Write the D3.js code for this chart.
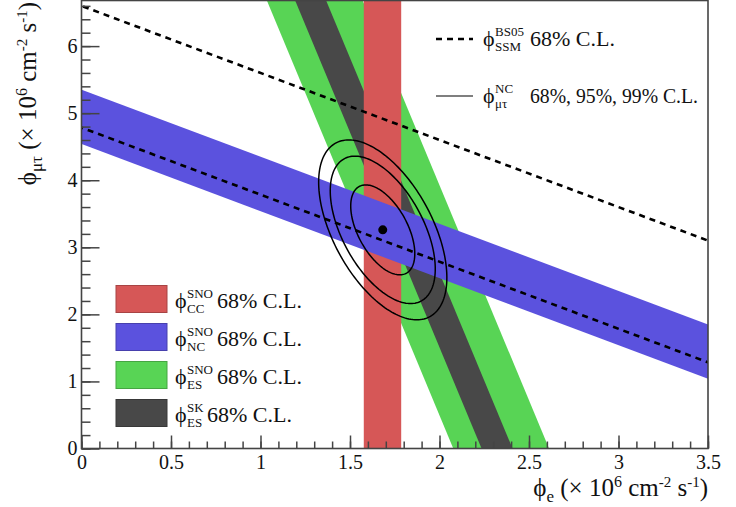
<!DOCTYPE html>
<html>
<head>
    <meta charset="utf-8">
    <title>SNO flux constraints</title>
    <script src="https://d3js.org/d3.v7.min.js"></script>
    <style>
        body, html {
            margin: 0;
            padding: 0;
            background: #fff;
        }
        svg {
            display: block;
        }
        svg text {
            font-family: "Liberation Serif", "Tinos", "Times New Roman", "DejaVu Serif", serif;
            fill: #111;
        }
        .axis path, .axis line {
            stroke: #444;
            stroke-width: 1.5px;
        }
        .axis text {
            font-size: 20px;
        }
    </style>
</head>
<body>
    <svg width="736" height="507"></svg>
    <script>
        // --- data ---
        // bands: phi_e + coef * phi_mutau in [lo, hi]
        const ccBand = [1.577, 1.786];       // coef 0
        const ncBand = [4.54, 5.35];         // coef 1
        const esSnoBand = [2.077, 2.612];    // coef 0.1559
        const esSkBand = [2.235, 2.408];     // coef 0.1559
        const esCoef = 0.1559;
        const ssmLines = [4.785, 6.60];      // phi_e + phi_mutau = value
        const bestFit = [1.683, 3.26];
        const fitSigma = [0.118, 0.442];
        const fitRho = -0.53;
        const clLevels = [2.30, 6.18, 9.21]; // delta chi2 for 68, 95, 99%

        const xMajor = [0, 0.5, 1, 1.5, 2, 2.5, 3, 3.5];
        const yMajor = [0, 1, 2, 3, 4, 5, 6];

        const colors = {
            cc: "#d65757",
            nc: "#5b52de",
            esSno: "#58d455",
            esSk: "#484848"
        };

        const PHI = "\u03d5";

        const svg = d3.select("svg");
        const mLeft = 81.5, mRight = 708, mTop = 0.5, mBottom = 448.5;

        const x = d3.scaleLinear().domain([0, 3.5]).range([mLeft, mRight]);
        const y = d3.scaleLinear().domain([0, 6.68]).range([mBottom, mTop]);
        const yMax = y.domain()[1];

        svg.append("defs").append("clipPath").attr("id", "plot")
            .append("rect")
            .attr("x", mLeft).attr("y", mTop)
            .attr("width", mRight - mLeft).attr("height", mBottom - mTop);

        const plot = svg.append("g").attr("clip-path", "url(#plot)");

        // polygon for lo <= phi_e + coef*phi_mt <= hi, over the y range
        function bandPoints(range, coef) {
            const [lo, hi] = range;
            return [
                [lo, 0], [lo - coef * yMax, yMax],
                [hi - coef * yMax, yMax], [hi, 0]
            ].map(p => [x(p[0]), y(p[1])]);
        }

        const bands = [
            { range: esSnoBand, coef: esCoef, color: colors.esSno },
            { range: esSkBand, coef: esCoef, color: colors.esSk },
            { range: ccBand, coef: 0, color: colors.cc },
            { range: ncBand, coef: 1, color: colors.nc }
        ];

        plot.selectAll("polygon.band")
            .data(bands)
            .enter().append("polygon")
            .attr("class", "band")
            .attr("points", d => bandPoints(d.range, d.coef).join(" "))
            .attr("fill", d => d.color);

        // SSM dashed lines
        plot.selectAll("line.ssm")
            .data(ssmLines)
            .enter().append("line")
            .attr("x1", d => x(d)).attr("y1", y(0))
            .attr("x2", d => x(d - yMax)).attr("y2", y(yMax))
            .attr("stroke", "#000")
            .attr("stroke-width", 2.6)
            .attr("stroke-dasharray", "6,5");

        // confidence contours
        const line = d3.line().curve(d3.curveLinearClosed);
        const angles = d3.range(0, 2 * Math.PI, Math.PI / 90);
        function ellipse(dchi2) {
            const k = Math.sqrt(dchi2);
            return angles.map(t => {
                const u = Math.cos(t), v = Math.sin(t);
                const pe = bestFit[0] + k * fitSigma[0] * u;
                const pm = bestFit[1] + k * fitSigma[1] * (fitRho * u + Math.sqrt(1 - fitRho * fitRho) * v);
                return [x(pe), y(pm)];
            });
        }
        plot.selectAll("path.cl")
            .data(clLevels)
            .enter().append("path")
            .attr("d", d => line(ellipse(d)))
            .attr("fill", "none")
            .attr("stroke", "#000")
            .attr("stroke-width", 1.5);

        plot.append("circle")
            .attr("cx", x(bestFit[0])).attr("cy", y(bestFit[1]))
            .attr("r", 4.5).attr("fill", "#000");

        // axes
        const xMinor = d3.range(0, 3.5001, 0.1).map(v => +v.toFixed(1));
        const yMinor = d3.range(0, 6.6001, 0.2).map(v => +v.toFixed(1));

        svg.append("g").attr("class", "axis")
            .attr("transform", `translate(0,${mBottom})`)
            .call(d3.axisBottom(x).tickValues(xMinor).tickSize(-7).tickSizeOuter(0).tickFormat(""))
            .call(g => g.select(".domain").remove());
        svg.append("g").attr("class", "axis")
            .attr("transform", `translate(0,${mBottom})`)
            .call(d3.axisBottom(x).tickValues(xMajor).tickSize(-13).tickSizeOuter(0).tickPadding(6)
                .tickFormat(d3.format("")))
            .call(g => g.select(".domain").remove());

        svg.append("g").attr("class", "axis")
            .attr("transform", `translate(${mLeft},0)`)
            .call(d3.axisLeft(y).tickValues(yMinor).tickSize(-9).tickSizeOuter(0).tickFormat(""))
            .call(g => g.select(".domain").remove());
        svg.append("g").attr("class", "axis")
            .attr("transform", `translate(${mLeft},0)`)
            .call(d3.axisLeft(y).tickValues(yMajor).tickSize(-18).tickSizeOuter(0).tickPadding(4)
                .tickFormat(d3.format("")))
            .call(g => g.select(".domain").remove());

        // frame
        svg.append("rect")
            .attr("x", mLeft).attr("y", mTop)
            .attr("width", mRight - mLeft).attr("height", mBottom - mTop)
            .attr("fill", "none")
            .attr("stroke", "#444")
            .attr("stroke-width", 1.6);

        // axis titles
        function addTitle(g, sub) {
            g.append("tspan").text(PHI);
            g.append("tspan").attr("font-size", 17).attr("dy", 6).text(sub);
            g.append("tspan").attr("dy", -6).text(" (\u00d7 10");
            g.append("tspan").attr("font-size", 16).attr("dy", -9).text("6");
            g.append("tspan").attr("dy", 9).text(" cm");
            g.append("tspan").attr("font-size", 15).attr("dy", -9).text("-2");
            g.append("tspan").attr("dy", 9).text(" s");
            g.append("tspan").attr("font-size", 15).attr("dy", -9).text("-1");
            g.append("tspan").attr("dy", 9).text(")");
        }

        const xTitle = svg.append("text")
            .attr("x", mRight).attr("y", 496)
            .attr("text-anchor", "end")
            .attr("font-size", 25);
        addTitle(xTitle, "e");

        const yTitle = svg.append("text")
            .attr("transform", "translate(36,2) rotate(-90)")
            .attr("text-anchor", "end")
            .attr("font-size", 25);
        addTitle(yTitle, "\u03bc\u03c4");

        // legend: sup/sub stacked symbol then label
        function symbol(gx, gy, sup, sub, label, labelX, labelLen) {
            const g = svg.append("g");
            g.append("text").attr("x", gx).attr("y", gy)
                .attr("font-size", 22).text(PHI);
            g.append("text").attr("x", gx + 12).attr("y", gy - 10)
                .attr("font-size", 13).text(sup);
            g.append("text").attr("x", gx + 12).attr("y", gy + 5)
                .attr("font-size", 13).text(sub);
            const t = g.append("text").attr("x", labelX).attr("y", gy)
                .attr("font-size", 22).text(label);
            if (labelLen) t.attr("textLength", labelLen).attr("lengthAdjust", "spacingAndGlyphs");
        }

        const legendItems = [
            { color: colors.cc, sup: "SNO", sub: "CC", lx: 217 },
            { color: colors.nc, sup: "SNO", sub: "NC", lx: 217 },
            { color: colors.esSno, sup: "SNO", sub: "ES", lx: 217 },
            { color: colors.esSk, sup: "SK", sub: "ES", lx: 207 }
        ];
        legendItems.forEach((d, i) => {
            const cy = 299 + i * 38;
            svg.append("rect")
                .attr("x", 116).attr("y", cy - 13.5)
                .attr("width", 51).attr("height", 27)
                .attr("fill", d.color)
                .attr("stroke", d3.color(d.color).darker(0.7))
                .attr("stroke-width", 1);
            symbol(175, cy + 9, d.sup, d.sub, "68% C.L.", d.lx);
        });

        svg.append("line")
            .attr("x1", 436).attr("x2", 473).attr("y1", 39).attr("y2", 39)
            .attr("stroke", "#000").attr("stroke-width", 2.6)
            .attr("stroke-dasharray", "6,5");
        symbol(483, 46, "BS05", "SSM", "68% C.L.", 530);

        svg.append("line")
            .attr("x1", 436).attr("x2", 473).attr("y1", 96).attr("y2", 96)
            .attr("stroke", "#000").attr("stroke-width", 1.2);
        symbol(483, 103, "NC", "\u03bc\u03c4", "68%, 95%, 99% C.L.", 530, 168);
    </script>
</body>
</html>
